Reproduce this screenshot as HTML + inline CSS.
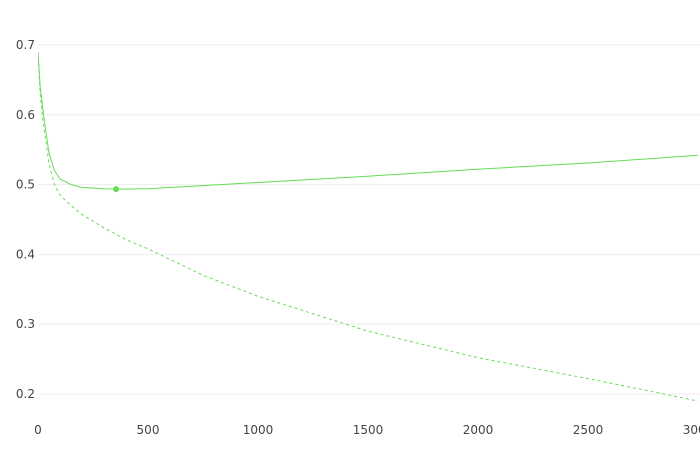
<!DOCTYPE html>
<html><head><meta charset="utf-8"><style>
html,body{margin:0;padding:0;background:#fff;}
svg{display:block;font-family:"DejaVu Sans","Liberation Sans",sans-serif;}
</style></head><body>
<svg id="chart" width="700" height="450" xmlns="http://www.w3.org/2000/svg">
<defs><clipPath id="clip"><rect x="38" y="0" width="662" height="450"/></clipPath></defs>
<g id="grid"></g>
<g id="ylabels"></g>
<g id="xlabels"></g>
<g id="series" clip-path="url(#clip)"></g>
</svg>
<script>
const xTicks=[0,500,1000,1500,2000,2500,3000];
const xTickLabels=["0","500","1000","1500","2000","2500","3000"];
const yTicks=[0.2,0.3,0.4,0.5,0.6,0.7];
const yTickLabels=["0.2","0.3","0.4","0.5","0.6","0.7"];
const solidX=[0,10,25,50,75,100,150,200,300,355,500,1000,1500,2000,2500,3000];
const solidY=[0.69,0.64,0.60,0.545,0.52,0.508,0.500,0.496,0.494,0.4935,0.494,0.503,0.512,0.522,0.531,0.542];
const dashX=[0,10,25,50,75,100,150,200,300,400,500,750,1000,1500,2000,2500,3000];
const dashY=[0.69,0.63,0.585,0.53,0.50,0.485,0.47,0.457,0.438,0.421,0.408,0.37,0.34,0.29,0.252,0.222,0.19];
const markerX=[355], markerY=[0.4935];
const sx=v=>38+v*0.22;
const sy=v=>45+(0.7-v)*698;
const NS="http://www.w3.org/2000/svg";
function mk(tag,attrs,parent){const e=document.createElementNS(NS,tag);for(const k in attrs)e.setAttribute(k,attrs[k]);parent.appendChild(e);return e;}
const grid=document.getElementById('grid'),yl=document.getElementById('ylabels'),xl=document.getElementById('xlabels'),ser=document.getElementById('series');
yTicks.forEach((t,i)=>{
  const l=mk('line',{x1:38,x2:700,y1:sy(t),y2:sy(t),stroke:'#eeeeee','stroke-width':1},grid);
  
  
  const tx=mk('text',{x:35,y:sy(t)+4,'text-anchor':'end','font-size':12,fill:'#444'},yl);
  tx.textContent=yTickLabels[i];
  
  
});
xTicks.forEach((t,i)=>{
  const tx=mk('text',{x:sx(t),y:434,'text-anchor':'middle','font-size':12,fill:'#444'},xl);
  tx.textContent=xTickLabels[i];
  
  
});
function path(xs,ys){return xs.map((x,i)=>(i?'L':'M')+sx(x).toFixed(1)+','+sy(ys[i]).toFixed(1)).join(' ');}
const p1=mk('path',{d:path(solidX,solidY),fill:'none',stroke:'#66dd55','stroke-width':1,'stroke-linejoin':'round'},ser);


const p2=mk('path',{d:path(dashX,dashY),fill:'none',stroke:'#66dd55','stroke-width':1,'stroke-dasharray':'3,3'},ser);


markerX.forEach((x,i)=>{
  const c=mk('circle',{cx:sx(x),cy:sy(markerY[i]),r:3,fill:'#66dd55'},ser);
  
  
});
</script>
</body></html>
